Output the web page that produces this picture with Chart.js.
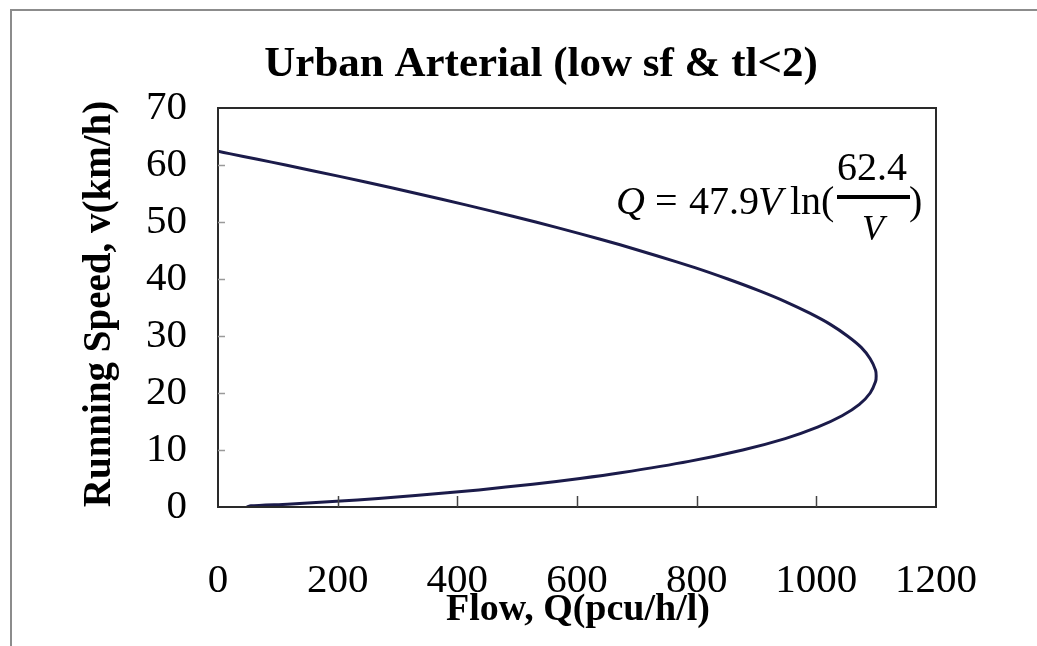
<!DOCTYPE html>
<html>
<head>
<meta charset="utf-8">
<script src="https://cdn.jsdelivr.net/npm/chart.js@4.4.1/dist/chart.umd.min.js"></script>
<style>
html,body{margin:0;padding:0;background:#fff;}
canvas{display:block;}
</style>
</head>
<body>
<canvas id="c" width="1037" height="646"></canvas>
<script>
// ---- text ----
const chartTitle = 'Urban Arterial (low sf & tl<2)';
const xAxisTitle = 'Flow, Q(pcu/h/l)';
const yAxisTitle = 'Running Speed, v(km/h)';

// ---- tick labels ----
const xTickValues = [0, 200, 400, 600, 800, 1000, 1200];
const yTickValues = [0, 10, 20, 30, 40, 50, 60, 70];

// ---- series: speed-flow curve ----
const speeds = [62.4, 62, 61, 60, 58, 56, 54, 52, 50, 48, 46, 44, 42, 40, 38, 36, 34, 32, 30, 28, 26, 24, 23, 22, 20, 18, 16, 14, 12, 10, 8, 6, 5, 4, 3, 2, 1.5, 1, 0.5, 0.2, 0];
const flows  = [0, 19, 66, 113, 203, 290, 374, 454, 531, 603, 672, 736, 797, 852, 903, 949, 989, 1024, 1052, 1075, 1090, 1099, 1100, 1099, 1090, 1072, 1043, 1002, 948, 877, 787, 673, 605, 526, 436, 330, 268, 198, 116, 55, 48];

const FONT = '"Liberation Serif", "Times New Roman", serif';

const points = flows.map((q, i) => ({x: q, y: speeds[i]}));

const decor = {
  id: 'decor',
  beforeDraw(chart) {
    const ctx = chart.ctx;
    ctx.save();
    ctx.fillStyle = '#fff';
    ctx.fillRect(0, 0, chart.width, chart.height);
    // outer frame (left and top visible)
    ctx.strokeStyle = '#8c8c8c';
    ctx.lineWidth = 2;
    ctx.beginPath();
    ctx.moveTo(11, chart.height);
    ctx.lineTo(11, 10);
    ctx.lineTo(chart.width, 10);
    ctx.stroke();
    ctx.restore();
  },
  afterDraw(chart) {
    const {ctx, chartArea: a, scales: {x, y}} = chart;
    ctx.save();
    // plot box
    ctx.strokeStyle = '#2a2a2a';
    ctx.lineWidth = 2;
    ctx.strokeRect(a.left, a.top, a.right - a.left, a.bottom - a.top);
    // inner y tick marks
    ctx.strokeStyle = '#9a9a9a';
    ctx.lineWidth = 1.5;
    yTickValues.slice(1, -1).forEach(v => {
      const py = Math.round(y.getPixelForValue(v)) + 0.5;
      ctx.beginPath();
      ctx.moveTo(a.left, py);
      ctx.lineTo(a.left + 7, py);
      ctx.stroke();
    });
    // inner x tick marks
    ctx.strokeStyle = '#444';
    ctx.lineWidth = 1.5;
    xTickValues.slice(1, -1).forEach(v => {
      const px = Math.round(x.getPixelForValue(v)) + 0.5;
      ctx.beginPath();
      ctx.moveTo(px, a.bottom);
      ctx.lineTo(px, a.bottom - 11);
      ctx.stroke();
    });

    ctx.fillStyle = '#000';
    // chart title
    ctx.font = 'bold 43px ' + FONT;
    ctx.textAlign = 'center';
    ctx.textBaseline = 'alphabetic';
    ctx.fillText(chartTitle, 541, 76);

    // x axis title
    ctx.font = 'bold 38px ' + FONT;
    ctx.fillText(xAxisTitle, 578, 620);

    // y axis title
    ctx.save();
    ctx.translate(100, 304);
    ctx.rotate(-Math.PI / 2);
    ctx.font = 'bold 39px ' + FONT;
    ctx.textBaseline = 'middle';
    ctx.fillText(yAxisTitle, 0, 0);
    ctx.restore();

    // equation Q = 47.9V ln(62.4/V)
    ctx.textAlign = 'left';
    ctx.textBaseline = 'alphabetic';
    const base = 214;
    ctx.font = 'italic 40px ' + FONT;
    ctx.fillText('Q', 616, base);
    ctx.font = '40px ' + FONT;
    ctx.fillText('=', 655, base);
    ctx.fillText('47.9', 689, base);
    ctx.font = 'italic 40px ' + FONT;
    ctx.fillText('V', 758, base);
    ctx.font = '40px ' + FONT;
    ctx.fillText('ln(', 790, base);
    ctx.textAlign = 'center';
    ctx.fillText('62.4', 872, 180);
    ctx.fillRect(837, 195, 73, 4);
    ctx.font = 'italic 36px ' + FONT;
    ctx.fillText('V', 873, 240);
    ctx.font = '40px ' + FONT;
    ctx.textAlign = 'left';
    ctx.fillText(')', 909, base);
    ctx.restore();
  }
};

new Chart(document.getElementById('c'), {
  type: 'scatter',
  data: {
    datasets: [{
      data: points,
      showLine: true,
      borderColor: '#1b1b4a',
      borderWidth: 3,
      pointRadius: 0,
      tension: 0.2,
      fill: false
    }]
  },
  options: {
    responsive: false,
    animation: false,
    devicePixelRatio: 1,
    layout: {padding: {left: 0, right: 101, top: 108, bottom: 0}},
    plugins: {legend: {display: false}, tooltip: {enabled: false}, title: {display: false}},
    scales: {
      x: {
        type: 'linear',
        min: 0, max: 1200,
        afterBuildTicks: s => { s.ticks = xTickValues.map(v => ({value: v})); },
        afterFit: s => { s.height = 139; },
        grid: {display: false, drawTicks: false},
        border: {display: true, color: '#111', width: 2},
        ticks: {color: '#000', font: {family: FONT, size: 41}, padding: 50, maxRotation: 0, autoSkip: false,
                callback: v => String(v)}
      },
      y: {
        type: 'linear',
        min: 0, max: 70,
        afterBuildTicks: s => { s.ticks = yTickValues.map(v => ({value: v})); },
        afterFit: s => { s.width = 218; },
        grid: {display: false, drawTicks: false},
        border: {display: true, color: '#111', width: 2},
        ticks: {color: '#000', font: {family: FONT, size: 41}, padding: 31, autoSkip: false,
                callback: v => String(v)}
      }
    }
  },
  plugins: [decor]
});
</script>
</body>
</html>
